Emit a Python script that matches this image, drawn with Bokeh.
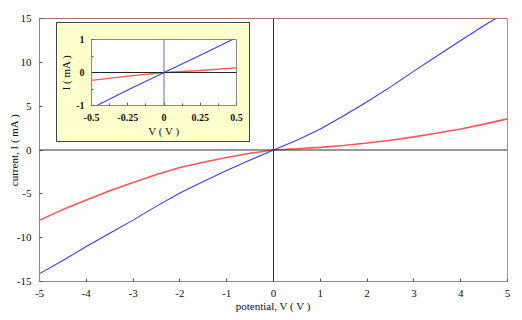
from bokeh.plotting import figure
from bokeh.models import Range1d, Span, FixedTicker
from bokeh.embed import file_html
from bokeh.resources import INLINE

# ---- data ----
V = [-5.0, -4.5, -4.0, -3.5, -3.0, -2.5, -2.0, -1.5, -1.0, -0.5, 0.0,
     0.5, 1.0, 1.5, 2.0, 2.5, 3.0, 3.5, 4.0, 4.5, 5.0]
I_blue = [-14.1, -12.6, -11.0, -9.5, -8.0, -6.4, -4.9, -3.6, -2.35, -1.15, 0.0,
          1.12, 2.4, 3.9, 5.5, 7.2, 9.0, 10.75, 12.5, 14.2, 15.8]
I_red = [-8.0, -6.8, -5.7, -4.65, -3.7, -2.8, -2.0, -1.4, -0.85, -0.38, 0.0,
         0.14, 0.3, 0.52, 0.8, 1.12, 1.5, 1.93, 2.4, 2.95, 3.55]

V_inset = [-0.5, -0.25, 0.0, 0.25, 0.5]
I_blue_inset = [-1.08, -0.53, 0.0, 0.52, 1.06]
I_red_inset = [-0.24, -0.11, 0.0, 0.06, 0.14]

x_ticks = [-5, -4, -3, -2, -1, 0, 1, 2, 3, 4, 5]
x_labels = ["-5", "-4", "-3", "-2", "-1", "0", "1", "2", "3", "4", "5"]
y_ticks = [-15, -10, -5, 0, 5, 10, 15]
y_labels = ["-15", "-10", "-5", "0", "5", "10", "15"]
inset_x_ticks = [-0.5, -0.25, 0, 0.25, 0.5]
inset_x_labels = ["-0.5", "-0.25", "0", "0.25", "0.5"]
inset_x_minor = [-0.375, -0.125, 0.125, 0.375]
inset_y_ticks = [-1, 0, 1]
inset_y_labels = ["-1", "0", "1"]
inset_y_minor = [-0.5, 0.5]

SERIF = "Liberation Serif"
BLUE = "#3a3aff"
RED = "#ff5555"

# ---- main figure ----
p = figure(width=522, height=320, x_range=Range1d(-5, 5), y_range=Range1d(-15, 15),
           output_backend="svg", toolbar_location=None,
           min_border_left=39, min_border_right=15, min_border_top=18, min_border_bottom=39)
p.grid.visible = False
p.outline_line_color = "#9a9a9a"
p.background_fill_color = "white"
p.border_fill_color = "white"

for ax in (p.xaxis[0], p.yaxis[0]):
    ax.axis_line_color = "#888888"
    ax.major_tick_line_color = "#555555"
    ax.major_tick_in = 3
    ax.major_tick_out = 0
    ax.minor_tick_line_color = None
    ax.major_label_text_font = SERIF
    ax.major_label_text_font_size = "11px"
    ax.major_label_text_color = "#111111"
    ax.axis_label_text_font = SERIF
    ax.axis_label_text_font_size = "11px"
    ax.axis_label_text_font_style = "normal"
    ax.axis_label_text_color = "#111111"

p.xaxis.ticker = FixedTicker(ticks=x_ticks)
p.yaxis.ticker = FixedTicker(ticks=y_ticks)
p.xaxis.major_label_overrides = dict(zip(x_ticks, x_labels))
p.yaxis.major_label_overrides = dict(zip(y_ticks, y_labels))
p.xaxis.axis_label = "potential, V ( V )"
p.yaxis.axis_label = "current, I ( mA )"
p.xaxis.major_label_standoff = 8
p.yaxis.major_label_standoff = 8
p.xaxis.axis_label_standoff = 0
p.yaxis.axis_label_standoff = -6

p.add_layout(Span(location=0, dimension="width", line_color="#333333", line_width=1))
p.add_layout(Span(location=0, dimension="height", line_color="#333333", line_width=1))
p.add_layout(Span(location=15, dimension="width", line_color="#c04848", line_width=1))

p.line(V, I_red, line_color=RED, line_width=1.6)
p.line(V, I_blue, line_color=BLUE, line_width=1.1)

# ---- inset figure ----
q = figure(width=192, height=118, x_range=Range1d(-0.5, 0.5), y_range=Range1d(-1, 1),
           output_backend="svg", toolbar_location=None,
           min_border_left=29, min_border_right=13, min_border_top=16, min_border_bottom=36)
q.grid.visible = False
q.outline_line_color = "#8a8a8a"
q.background_fill_color = "white"
q.border_fill_color = "#ffffcc"
q.styles = {"position": "absolute", "left": "57px", "top": "23px",
            "outline": "1px solid #444444", "z-index": "10"}

for ax in (q.xaxis[0], q.yaxis[0]):
    ax.axis_line_color = "#888888"
    ax.major_tick_line_color = "#666666"
    ax.major_tick_in = 3
    ax.major_tick_out = 0
    ax.minor_tick_line_color = "#666666"
    ax.minor_tick_in = 2
    ax.minor_tick_out = 0
    ax.major_label_text_font = SERIF
    ax.major_label_text_font_size = "10px"
    ax.major_label_text_font_style = "bold"
    ax.major_label_text_color = "#111111"
    ax.axis_label_text_font = SERIF
    ax.axis_label_text_font_size = "11px"
    ax.axis_label_text_font_style = "normal"
    ax.axis_label_text_color = "#111111"

q.xaxis.ticker = FixedTicker(ticks=inset_x_ticks, minor_ticks=inset_x_minor)
q.yaxis.ticker = FixedTicker(ticks=inset_y_ticks, minor_ticks=inset_y_minor)
q.xaxis.major_label_overrides = dict(zip(inset_x_ticks, inset_x_labels))
q.yaxis.major_label_overrides = dict(zip(inset_y_ticks, inset_y_labels))
q.xaxis.axis_label = "V ( V )"
q.yaxis.axis_label = "I ( mA )"
q.xaxis.major_label_standoff = 8
q.yaxis.major_label_standoff = 7
q.xaxis.axis_label_standoff = 1
q.yaxis.axis_label_standoff = 1

q.add_layout(Span(location=0, dimension="width", line_color="#222222", line_width=1))
q.add_layout(Span(location=0, dimension="height", line_color="#5b6fb5", line_width=1))

q.line(V_inset, I_red_inset, line_color=RED, line_width=1.3)
q.line(V_inset, I_blue_inset, line_color=BLUE, line_width=1.1)

open("out.html", "w").write(file_html([p, q], INLINE))
